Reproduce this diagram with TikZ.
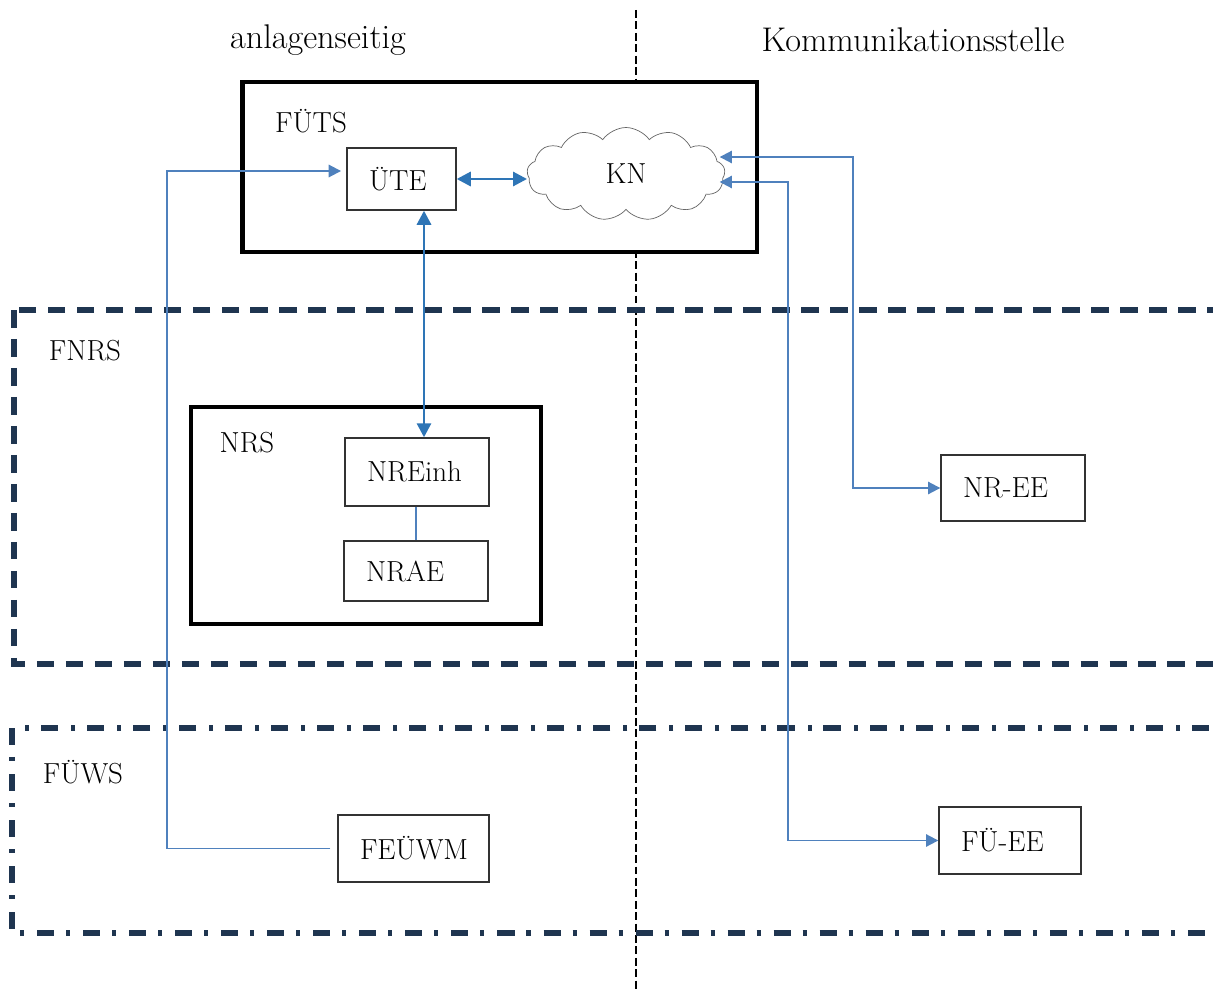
\documentclass[tikz,border=0pt]{standalone}
\usepackage{tikz}
\usetikzlibrary{arrows.meta,positioning,shapes.symbols}

\definecolor{arrblue}{HTML}{2E75B6}
\definecolor{linkblue}{HTML}{4F81BD}
\definecolor{navy}{HTML}{1F3550}

\begin{document}
\begin{tikzpicture}[x=0.02cm,y=-0.02cm,font=\fontsize{16.5}{19}\selectfont]
\tikzset{
	box/.style = {draw=black!80, line width=0.8pt, fill=white, align=left, inner xsep=0.44cm},
	frame/.style = {draw=black, line width=2.8pt},
	region/.style = {draw=navy, line width=3.4pt},
	side/.style = {font=\fontsize{19.5}{22}\selectfont},
	arr/.style = {draw=arrblue, line width=1.6pt, {Triangle[length=8pt,width=8pt]}-{Triangle[length=8pt,width=8pt]}},
	link/.style = {draw=linkblue, line width=1.1pt}
}
\clip (0,0) rectangle (1213,990);
% divider
\draw[line width=1.6pt, dash pattern=on 4.5pt off 2pt] (636,10) -- (636,990);
\node (lblanl) [side] at (318,40) {anlagenseitig};
\node (lblkom) [side] at (913,40) {Kommunikationsstelle};
% regions
\draw[region, dash pattern=on 10pt off 6.5pt] (14,310) rectangle (1280,664);
\draw[region, dash pattern=on 9.7pt off 6.8pt on 2.3pt off 7.4pt] (12,728) rectangle (1280,933);
\node (lblfnrs) at (85,351) {FNRS};
\node (lblfuws) at (83,772) {FÜWS};
% FUETS
\node (futs) [frame, fill=white, minimum width=10.3cm, minimum height=3.4cm] at (499.5,167) {};
\node (lblfuts) at (311,121) {FÜTS};
\node (ute) [box, text width=1.30cm, minimum height=1.24cm] at (401.5,179) {ÜTE};
\node (kn) [cloud, draw=black!60, thin, cloud puffs=13, cloud puff arc=110, aspect=2.2, minimum width=3.96cm, minimum height=1.86cm] at (626,174) {KN};
% NRS
\node (nrs) [frame, minimum width=7cm, minimum height=4.34cm] at (366,515.5) {};
\node (lblnrs) at (247,443) {NRS};
\node (nreinh) [box, text width=2.0cm, minimum height=1.36cm] at (417,472) {NREinh};
\node (nrae) [box, text width=2.0cm, minimum height=1.2cm] at (416,571) {NRAE};
% end devices
\node (feuwm) [box, text width=2.14cm, minimum height=1.34cm] at (413.5,848.5) {FEÜWM};
\node (nree) [box, text width=2.0cm, minimum height=1.32cm] at (1013,488) {NR-EE};
\node (fuee) [box, text width=1.96cm, minimum height=1.34cm] at (1010,840.5) {FÜ-EE};
% connections
\draw[arr] (ute.east) -- (ute.east -| kn.west);
\draw[arr] ([xshift=0.45cm]ute.south) -- ([xshift=0.45cm]ute.south |- nreinh.north);
\draw[link] (nreinh.south -| nrae.north) -- (nrae.north);
\draw[link, -{Triangle[length=7pt,width=7pt]}, shorten <=4pt, shorten >=3pt] (feuwm.west) -- ++(-170,0) |- ([yshift=0.16cm]ute.west);
\draw[link, {Triangle[length=7pt,width=7pt]}-{Triangle[length=7pt,width=7pt]}] ([yshift=0.34cm,xshift=-3pt]kn.east) -- ++(133,0) |- (nree.west);
\draw[link, {Triangle[length=7pt,width=7pt]}-{Triangle[length=7pt,width=7pt]}] ([yshift=-0.16cm,xshift=-3pt]kn.east) -- ++(68,0) |- (fuee.west);
\end{tikzpicture}
\end{document}
